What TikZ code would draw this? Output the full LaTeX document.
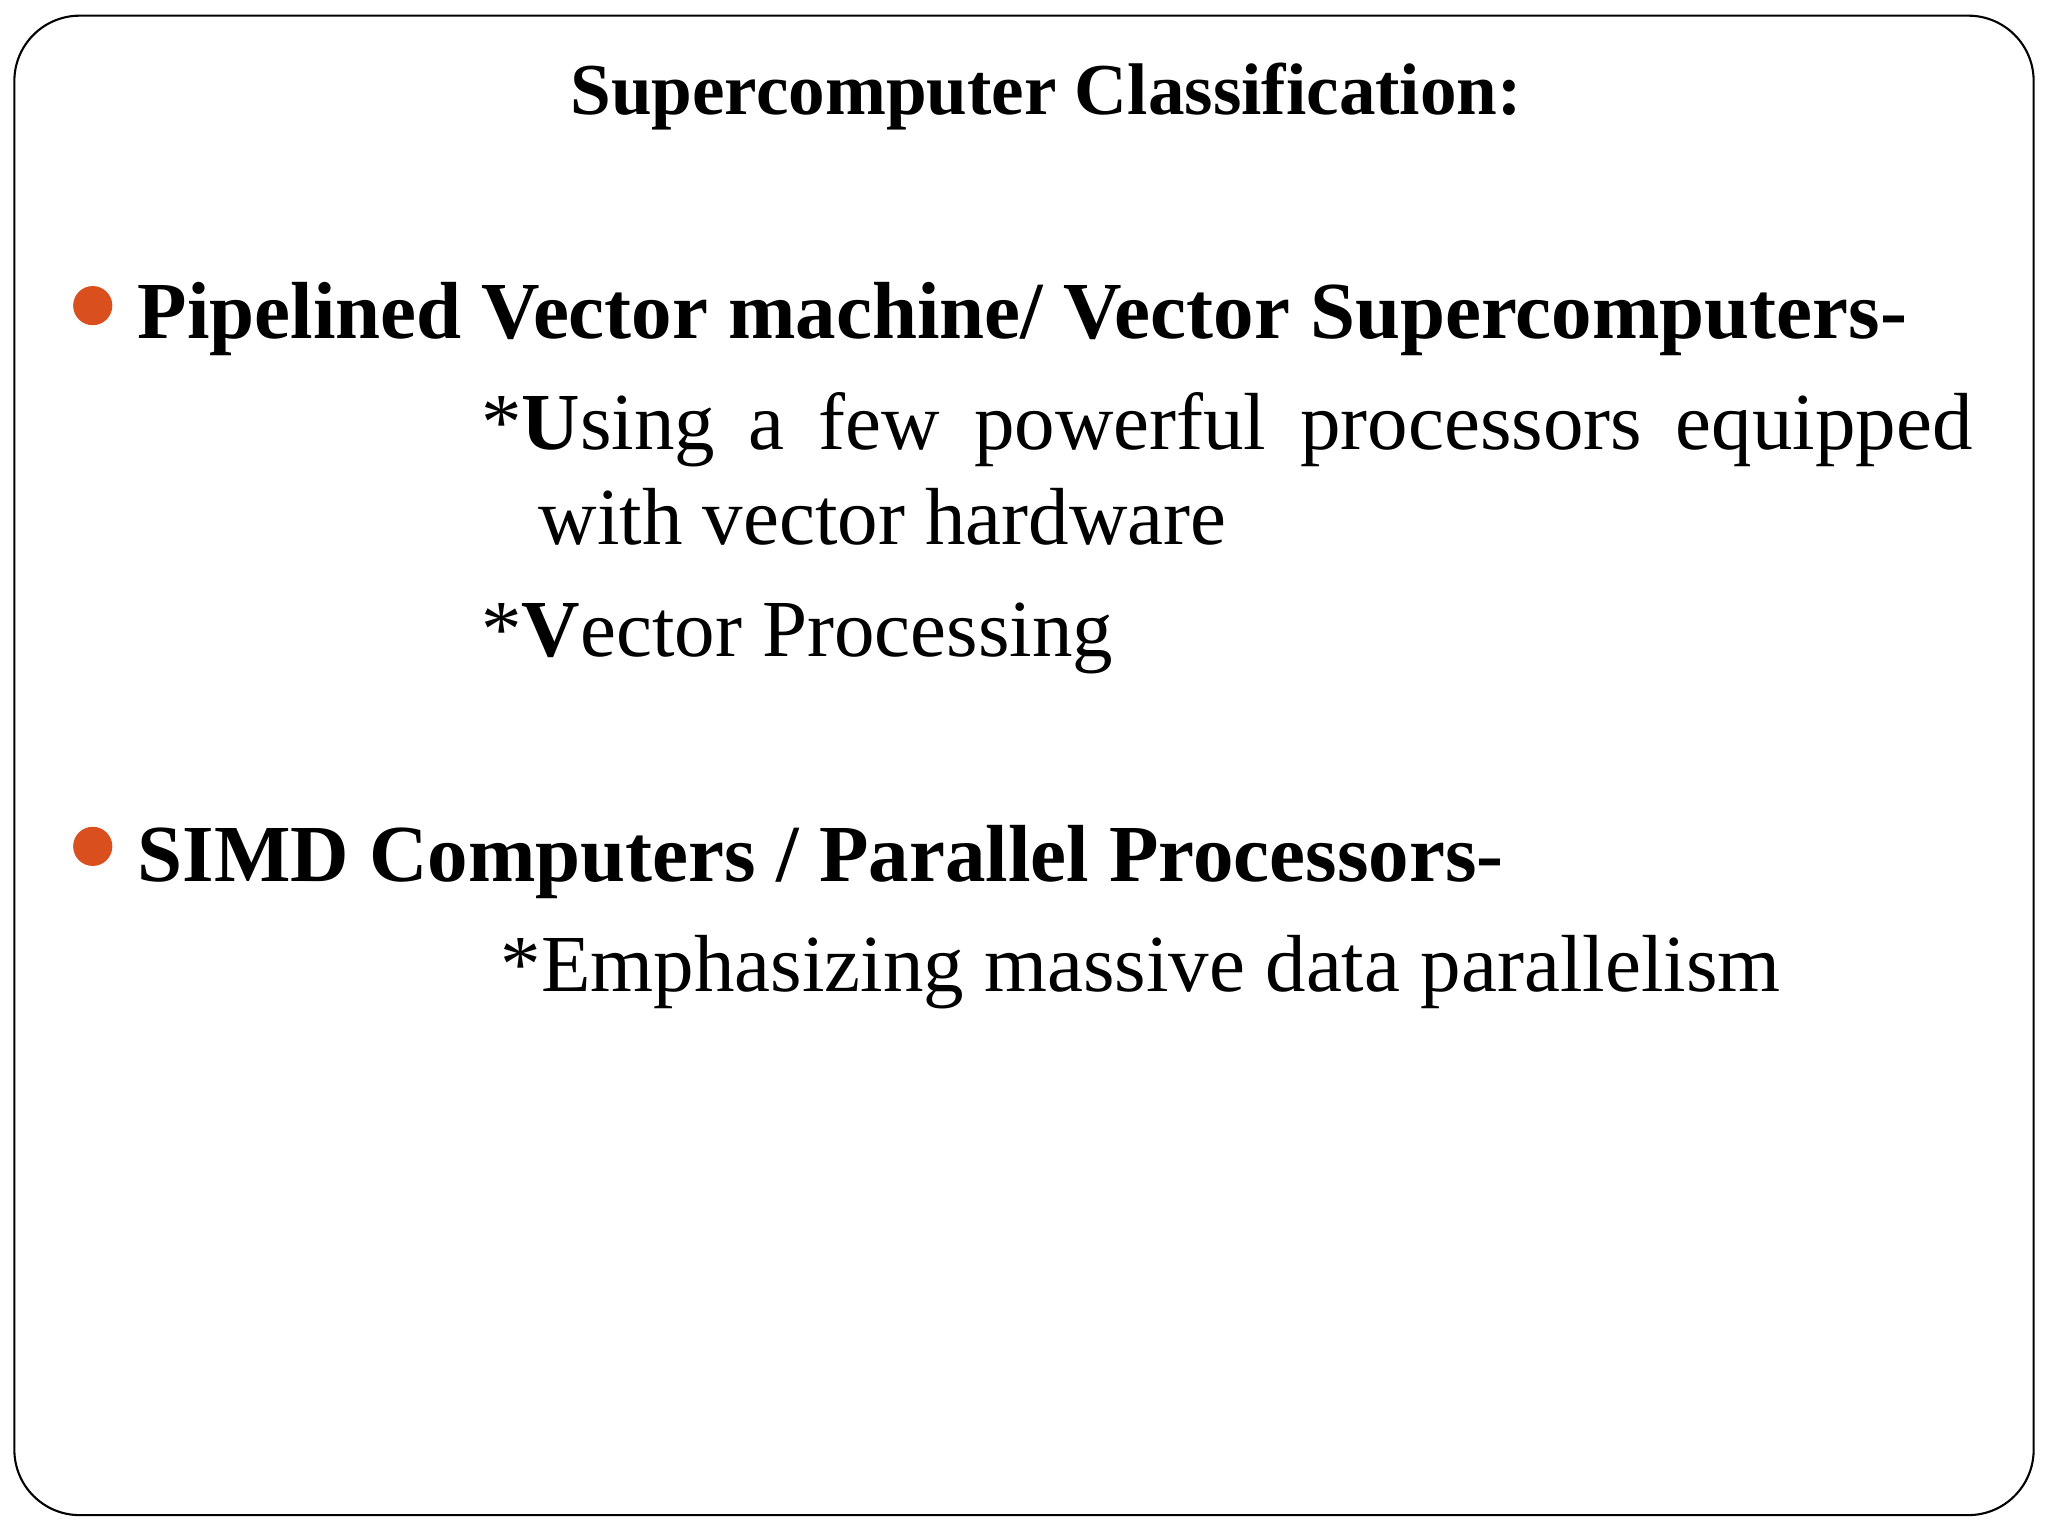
\documentclass[tikz,border=0pt]{standalone}
\usepackage{fontspec}
\setmainfont{Liberation Serif}
\definecolor{bul}{HTML}{D9501E}
\begin{document}
\begin{tikzpicture}[x=0.5pt,y=-0.5pt,
  txt/.style={anchor=base west,inner sep=0pt,font=\fontsize{31}{36}\selectfont},
  head/.style={txt,font=\fontsize{31}{36}\selectfont\bfseries},
  dot/.style={circle,fill=bul,minimum size=15pt,inner sep=0pt}]
\useasboundingbox (0,0) rectangle (1568,1176);
\draw[line width=0.8pt,rounded corners=25pt] (11,12) rectangle (1557,1160);
\node[anchor=base,inner sep=0pt,font=\fontsize{28}{32}\selectfont\bfseries] (title) at (801,88) {Supercomputer Classification:};
\node[dot] (b1) at (71,234) {};
\node[head] (h1) at (105,259) {Pipelined Vector machine/ Vector Supercomputers-};
\node[txt] (l1) at (368,344) {\hbox to 571pt{*\textbf{U}sing\hfill a\hfill few\hfill powerful\hfill processors\hfill equipped}};
\node[txt] (l2) at (412,417) {with vector hardware};
\node[txt] (l3) at (368,503) {*\textbf{V}ector Processing};
\node[dot] (b2) at (71,648) {};
\node[head] (h2) at (105,675) {SIMD Computers / Parallel Processors-};
\node[txt] (l4) at (383,759) {*Emphasizing massive data parallelism};
\end{tikzpicture}
\end{document}
